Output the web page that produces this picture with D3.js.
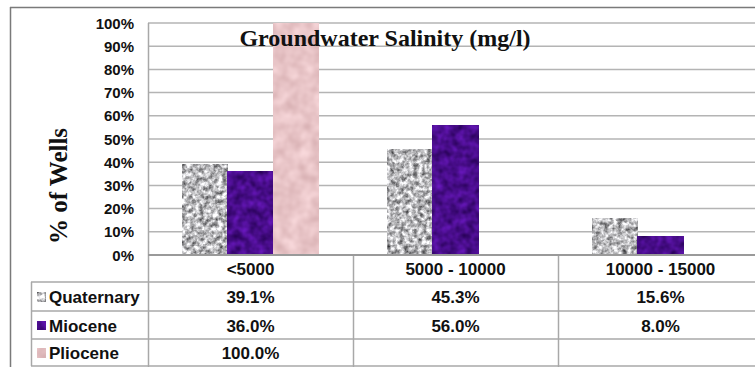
<!DOCTYPE html>
<html><head><meta charset="utf-8">
<script src="https://cdn.jsdelivr.net/npm/d3@7"></script>
<style>
html,body{margin:0;padding:0;background:#fff;}
svg{display:block;}
</style></head>
<body>
<svg id="chart" width="755" height="367"></svg>
<script>
const categories = ["<5000", "5000 - 10000", "10000 - 15000"];
const seriesNames = ["Quaternary", "Miocene", "Pliocene"];
const quaternary = [39.1, 45.3, 15.6];
const miocene = [36.0, 56.0, 8.0];
const pliocene = [100.0, null, null];
const yTicks = [0, 10, 20, 30, 40, 50, 60, 70, 80, 90, 100];
const titleText = "Groundwater Salinity (mg/l)";
const yLabel = "% of Wells";

const seriesValues = [quaternary, miocene, pliocene];
const seriesKeys = ["q", "m", "p"];

const svg = d3.select("#chart");
const defs = svg.append("defs");

// texture filters (deterministic turbulence)
const filt = [
  {id:"q", freq:0.22, oct:3, seed:4, m:"1.25 0 0 0 0.1  1.25 0 0 0 0.1  1.25 0 0 0 0.11  0 0 0 0 1"},
  {id:"m", freq:0.12, oct:2, seed:7, m:"0.35 0 0 0 0.11  0.12 0 0 0 -0.01  0.55 0 0 0 0.27  0 0 0 0 1"},
  {id:"p", freq:0.08, oct:2, seed:2, m:"0.18 0 0 0 0.82  0.22 0 0 0 0.66  0.22 0 0 0 0.67  0 0 0 0 1"}
];
filt.forEach(f => {
  const fl = defs.append("filter").attr("id", "tex-" + f.id)
    .attr("x", 0).attr("y", 0).attr("width", 1).attr("height", 1)
    .attr("filterUnits", "objectBoundingBox")
    .attr("color-interpolation-filters", "sRGB");
  fl.append("feTurbulence").attr("type", "fractalNoise")
    .attr("baseFrequency", f.freq).attr("numOctaves", f.oct).attr("seed", f.seed);
  fl.append("feColorMatrix").attr("type", "matrix").attr("values", f.m);
});
const fallback = {q:"#bdbdbd", m:"#4b0c8a", p:"#e8c4c6"};

// layout
const plotLeft = 148, plotTop = 23, plotBottom = 255, plotRight = 763;
const x = d3.scaleBand().domain(categories).range([plotLeft, plotRight]).paddingInner(0).paddingOuter(0);
const x1 = d3.scaleBand().domain(seriesNames).range([0, x.bandwidth()]).paddingInner(0).paddingOuter(0.75);
const y = d3.scaleLinear().domain([0, 100]).range([plotBottom, plotTop]);

const gridColor = "#b4b4b4";
const tableColor = "#a8a8a8";

// outer frame
svg.append("line").attr("x1", 10.5).attr("x2", 10.5).attr("y1", 7).attr("y2", 367)
  .attr("stroke", "#7a7a7a").attr("stroke-width", 1.5);
svg.append("line").attr("x1", 10).attr("x2", 755).attr("y1", 7.5).attr("y2", 7.5)
  .attr("stroke", "#7a7a7a").attr("stroke-width", 1.5);

// gridlines
svg.append("g").selectAll("line").data(yTicks.filter(d => d > 0)).join("line")
  .attr("x1", plotLeft).attr("x2", plotRight)
  .attr("y1", d => y(d)).attr("y2", d => y(d))
  .attr("stroke", gridColor).attr("stroke-width", 1.5);

// y tick labels
svg.append("g").selectAll("text").data(yTicks).join("text")
  .attr("x", 134).attr("y", d => y(d))
  .attr("text-anchor", "end").attr("dominant-baseline", "central")
  .attr("font-family", "Arial, 'Liberation Sans', sans-serif")
  .attr("font-weight", "bold").attr("font-size", 15)
  .attr("fill", "#111")
  .text(d => d + "%");

// y label
svg.append("text")
  .attr("transform", "translate(67,186) rotate(-90)")
  .attr("text-anchor", "middle")
  .attr("font-family", "'Times New Roman', 'Liberation Serif', serif")
  .attr("font-weight", "bold").attr("font-size", 25)
  .attr("fill", "#111")
  .text(yLabel);

// bars
const barData = [];
categories.forEach((c, i) => {
  seriesNames.forEach((s, j) => {
    const v = seriesValues[j][i];
    if (v != null) barData.push({cat: c, series: s, key: seriesKeys[j], value: v});
  });
});
svg.append("g").selectAll("rect").data(barData).join("rect")
  .attr("x", d => x(d.cat) + x1(d.series))
  .attr("y", d => y(d.value))
  .attr("width", x1.bandwidth())
  .attr("height", d => y(0) - y(d.value))
  .attr("fill", d => fallback[d.key])
  .attr("filter", d => "url(#tex-" + d.key + ")");

// title
svg.append("text")
  .attr("x", 385).attr("y", 46)
  .attr("text-anchor", "middle")
  .attr("font-family", "'Times New Roman', 'Liberation Serif', serif")
  .attr("font-weight", "bold").attr("font-size", 24)
  .attr("fill", "#111")
  .text(titleText);

// data table
const rowTops = [255, 282, 311, 339, 366];
const tbl = svg.append("g");
tbl.append("line").attr("x1", plotLeft + 0.5).attr("x2", plotLeft + 0.5).attr("y1", plotTop).attr("y2", 367)
  .attr("stroke", tableColor).attr("stroke-width", 1.5);
categories.slice(1).forEach(c => {
  tbl.append("line").attr("x1", x(c) + 0.5).attr("x2", x(c) + 0.5).attr("y1", rowTops[0]).attr("y2", 367)
    .attr("stroke", tableColor).attr("stroke-width", 1.5);
});
tbl.append("line").attr("x1", 31.5).attr("x2", 31.5).attr("y1", rowTops[1]).attr("y2", rowTops[4])
  .attr("stroke", tableColor).attr("stroke-width", 1.5);
tbl.append("line").attr("x1", plotLeft).attr("x2", plotRight).attr("y1", rowTops[0]).attr("y2", rowTops[0])
  .attr("stroke", "#9a9a9a").attr("stroke-width", 2);
rowTops.slice(1).forEach(t => {
  tbl.append("line").attr("x1", 31).attr("x2", plotRight).attr("y1", t).attr("y2", t)
    .attr("stroke", tableColor).attr("stroke-width", 1.5);
});

const tFont = "Arial, 'Liberation Sans', sans-serif";
tbl.selectAll("text.cat").data(categories).join("text").attr("class", "cat")
  .attr("x", d => x(d) + x.bandwidth() / 2)
  .attr("y", (rowTops[0] + rowTops[1]) / 2 + 1)
  .attr("text-anchor", "middle").attr("dominant-baseline", "central")
  .attr("font-family", tFont).attr("font-weight", "bold").attr("font-size", 17)
  .attr("fill", "#111")
  .text(d => d);

seriesNames.forEach((s, j) => {
  const cy = (rowTops[j + 1] + rowTops[j + 2]) / 2 + 1;
  tbl.append("rect").attr("x", 37).attr("y", cy - 5).attr("width", 9).attr("height", 9)
    .attr("fill", fallback[seriesKeys[j]])
    .attr("filter", "url(#tex-" + seriesKeys[j] + ")");
  tbl.append("text").attr("x", 49).attr("y", cy)
    .attr("dominant-baseline", "central")
    .attr("font-family", tFont).attr("font-weight", "bold").attr("font-size", 17)
    .attr("fill", "#111").text(s);
  tbl.selectAll("text.v" + j).data(seriesValues[j]).join("text").attr("class", "v" + j)
    .attr("x", (d, i) => x(categories[i]) + x.bandwidth() / 2)
    .attr("y", cy)
    .attr("text-anchor", "middle").attr("dominant-baseline", "central")
    .attr("font-family", tFont).attr("font-weight", "bold").attr("font-size", 17)
    .attr("fill", "#111")
    .text(d => d == null ? "" : d.toFixed(1) + "%");
});
</script>
</body></html>
